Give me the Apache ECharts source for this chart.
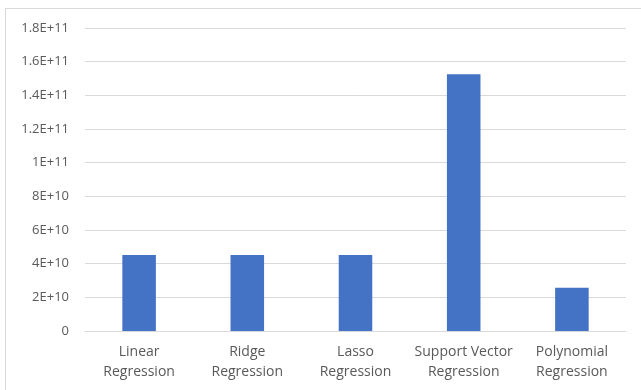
<!DOCTYPE html>
<html>
<head>
<meta charset="utf-8">
<script src="https://cdn.jsdelivr.net/npm/echarts@6/dist/echarts.min.js"></script>
<style>
html,body{margin:0;padding:0;background:#fff;}
#frame{position:absolute;left:5px;top:8px;width:640px;height:390px;border-left:1px solid #d9d9d9;border-top:1px solid #d9d9d9;}
#chart{position:absolute;left:0;top:0;width:641px;height:390px;}
</style>
</head>
<body>
<div id="frame"></div>
<div id="chart"></div>
<script>
const categories = ['Linear\nRegression', 'Ridge\nRegression', 'Lasso\nRegression', 'Support Vector\nRegression', 'Polynomial\nRegression'];
const values = [4.52e10, 4.52e10, 4.52e10, 1.525e11, 2.57e10];
const yTickLabels = {0:'0', 2e10:'2E+10', 4e10:'4E+10', 6e10:'6E+10', 8e10:'8E+10', 1e11:'1E+11', 1.2e11:'1.2E+11', 1.4e11:'1.4E+11', 1.6e11:'1.6E+11', 1.8e11:'1.8E+11'};

const chart = echarts.init(document.getElementById('chart'), null, {renderer:'canvas'});
chart.setOption({
  animation: false,
  grid: {left: 85, right: 15, top: 28, bottom: 59, containLabel: false},
  xAxis: {
    type: 'category',
    data: categories,
    axisLine: {lineStyle: {color: '#d9d9d9'}},
    axisTick: {show: false},
    axisLabel: {color: '#595959', fontFamily: 'Open Sans', fontSize: 14, lineHeight: 20, margin: 11, interval: 0}
  },
  yAxis: {
    type: 'value',
    min: 0, max: 1.8e11, interval: 2e10,
    axisLine: {show: false},
    axisTick: {show: false},
    splitLine: {lineStyle: {color: '#d9d9d9'}},
    axisLabel: {color: '#595959', fontFamily: 'Open Sans', fontSize: 13, margin: 16,
      formatter: v => yTickLabels[v] !== undefined ? yTickLabels[v] : String(v)}
  },
  series: [{
    type: 'bar',
    data: values,
    barWidth: '31%',
    itemStyle: {color: '#4472c4'}
  }]
});
</script>
</body>
</html>
